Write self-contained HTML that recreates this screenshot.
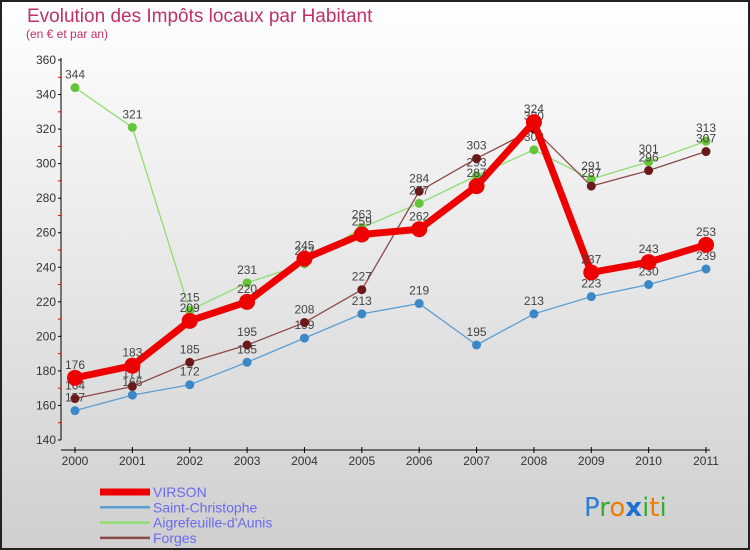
<!DOCTYPE html>
<html><head><meta charset="utf-8"><style>
body{margin:0;width:750px;height:550px;overflow:hidden;font-family:"Liberation Sans",sans-serif}
svg{display:block}
</style></head><body>
<svg id="chart" width="750" height="550" xmlns="http://www.w3.org/2000/svg">
<defs><linearGradient id="bg" x1="0" y1="0" x2="0" y2="1"><stop offset="0" stop-color="#ffffff"/><stop offset="1" stop-color="#cfcfcf"/></linearGradient></defs>
<rect x="1" y="1" width="748" height="548" fill="url(#bg)" stroke="#222" stroke-width="2"/>
<text x="27" y="22" font-size="19" fill="#c0306a">Evolution des Impôts locaux par Habitant</text>
<text x="26" y="38" font-size="12" fill="#c0306a">(en € et par an)</text>
<g id="axes"></g>
<g id="series"></g>
<g id="legend"></g>
<g font-size="26" font-family="DejaVu Sans, sans-serif">
<text x="584" y="516"><tspan fill="#2a7fd0">P</tspan><tspan fill="#3aaa35">r</tspan><tspan fill="#f07c00">o</tspan><tspan fill="#1f6fd0" font-weight="bold">x</tspan><tspan fill="#3aaa35">i</tspan><tspan fill="#f07c00">t</tspan><tspan fill="#3aaa35">i</tspan></text>
</g>
</svg>
<script>
const years=["2000","2001","2002","2003","2004","2005","2006","2007","2008","2009","2010","2011"];
const yTicks=[140,160,180,200,220,240,260,280,300,320,340,360];
const virson=[176,183,209,220,245,259,262,287,324,237,243,253];
const saintChristophe=[157,166,172,185,199,213,219,195,213,223,230,239];
const aigrefeuille=[344,321,215,231,242,263,277,293,308,291,301,313];
const forges=[164,171,185,195,208,227,284,303,320,287,296,307];
const NS="http://www.w3.org/2000/svg";
const X=i=>75+i*(706-75)/11;
const Y=v=>440-(v-140)*380/220;
function mk(tag,attrs,parent){const e=document.createElementNS(NS,tag);for(const k in attrs)e.setAttribute(k,attrs[k]);parent.appendChild(e);return e;}
const ax=document.getElementById('axes');
let yl=mk('line',{x1:61,y1:58,x2:61,y2:440,stroke:'#000','stroke-width':1},ax);


let xl=mk('line',{x1:61,y1:450,x2:710,y2:450,stroke:'#000','stroke-width':1},ax);


yTicks.forEach((t,i)=>{
 mk('line',{x1:58,y1:Y(t),x2:61,y2:Y(t),stroke:'#000'},ax);
 if(i<yTicks.length-1) mk('line',{x1:58,y1:Y(t+10),x2:61,y2:Y(t+10),stroke:'#e00'},ax);
 const tx=mk('text',{x:56,y:Y(t)+4,'text-anchor':'end','font-size':12,fill:'#333'},ax);
 
 
 tx.textContent=t;
});
years.forEach((y,i)=>{
 mk('line',{x1:X(i),y1:447,x2:X(i),y2:453,stroke:'#000'},ax);
 const tx=mk('text',{x:X(i),y:465,'text-anchor':'middle','font-size':12,fill:'#333'},ax);
 
 
 tx.textContent=y;
});
const sg=document.getElementById('series');
const defs=[
 {name:'saint-christophe',label:'Saint-Christophe',data:saintChristophe,color:'#5a9fd4',dot:'#3a88c8',w:1.3,r:4.5},
 {name:'aigrefeuille',label:"Aigrefeuille-d'Aunis",data:aigrefeuille,color:'#90dd70',dot:'#66c33a',w:1.3,r:4.5},
 {name:'forges',label:'Forges',data:forges,color:'#8a4a4a',dot:'#6a1a1a',w:1.3,r:4.5},
 {name:'virson',label:'VIRSON',data:virson,color:'#ee0000',dot:'#ee0000',w:7,r:8}
];
defs.forEach(s=>{
 const g=mk('g',{},sg);
 
 
 const p=mk('polyline',{points:s.data.map((v,i)=>X(i)+','+Y(v)).join(' '),fill:'none',stroke:s.color,'stroke-width':s.w,'stroke-linejoin':'round'},g);
 
 
 s.data.forEach((v,i)=>{
  const c=mk('circle',{cx:X(i),cy:Y(v),r:s.r,fill:s.dot},g);
  
  
  const t=mk('text',{x:X(i),y:Y(v)-9,'text-anchor':'middle','font-size':12,fill:'#444'},g);
  
  
  t.textContent=v;
 });
});
const lg=document.getElementById('legend');
const order=[defs[3],defs[0],defs[1],defs[2]];
order.forEach((s,i)=>{
 const y=492+i*15.3;
 const g=mk('g',{},lg);
 
 
 mk('line',{x1:100,y1:y,x2:150,y2:y,stroke:s.color,'stroke-width':s.name==='virson'?7:2.5},g);
 const t=mk('text',{x:153,y:y+5,'font-size':14,fill:'#6a6af0'},g);
 t.textContent=s.label;
});
</script>
</body></html>
